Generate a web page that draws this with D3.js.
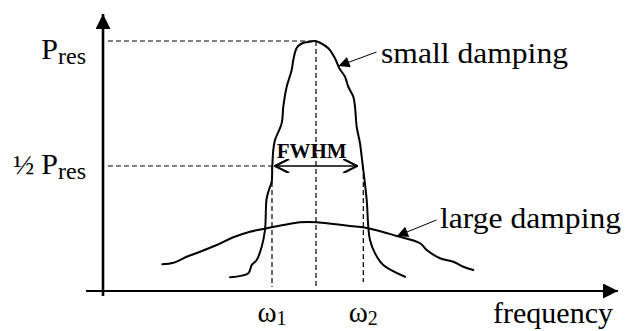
<!DOCTYPE html>
<html>
<head>
<meta charset="utf-8">
<script src="https://cdn.jsdelivr.net/npm/d3@7"></script>
<style>
  html, body { margin: 0; padding: 0; background: #fff; }
  svg { display: block; }
</style>
</head>
<body>
<svg id="chart" width="625" height="331"></svg>
<script>
// Resonance curves: power vs. frequency (arbitrary units; power as fraction of P_res)
const smallFreq  = [25.4, 29.06, 29.74, 30.74, 31.74, 32.4, 32.74, 33.4, 33.74, 33.86, 34.06, 34.4, 35.74, 36.06, 36.74, 37.74, 38.06, 38.74, 39.74, 41.0, 42.4, 43.4, 45.06, 46.4, 47.26, 48.4, 49.06, 50.06, 50.4, 50.74, 51.4, 51.74, 52.06, 52.74, 53.06, 53.4, 54.4, 56.06, 60.4];
const smallPower = [0.055, 0.071, 0.104, 0.124, 0.177, 0.244, 0.371, 0.417, 0.437, 0.50, 0.564, 0.604, 0.671, 0.737, 0.817, 0.884, 0.924, 0.972, 0.99, 0.996, 1.0, 0.993, 0.971, 0.931, 0.891, 0.857, 0.817, 0.777, 0.737, 0.657, 0.591, 0.537, 0.484, 0.364, 0.257, 0.204, 0.151, 0.104, 0.057];

const largeFreq  = [11.86, 14.06, 16.74, 19.4, 22.74, 26.06, 29.4, 32.74, 36.06, 39.4, 42.74, 46.06, 49.4, 53.06, 58.74, 63.4, 64.74, 67.4, 70.06, 72.06, 74.06];
const largePower = [0.107, 0.113, 0.137, 0.157, 0.184, 0.215, 0.237, 0.251, 0.264, 0.275, 0.275, 0.268, 0.26, 0.251, 0.22, 0.191, 0.164, 0.131, 0.117, 0.097, 0.084];

// Characteristic frequencies and power levels
const omegaRes = 42.6;
const omega1 = 33.8;
const omega2 = 52.06;
const pRes = 1.0;
const pHalf = 0.5;

// Axis labels
const yLabels = [
  { value: pRes,  prefix: "",   main: "P", sub: "res" },
  { value: pHalf, prefix: "½ ", main: "P", sub: "res" }
];
const xLabels = [
  { value: omega1, main: "ω", sub: "1" },
  { value: omega2, main: "ω", sub: "2" }
];
const xTitle = "frequency";
const curveNames = ["small damping", "large damping"];
const fwhmLabel = "FWHM";

const FONT = "'Liberation Serif', 'Times New Roman', Times, serif";

const svg = d3.select("#chart");
svg.append("rect").attr("width", 625).attr("height", 331).attr("fill", "#fff");
const x = d3.scaleLinear().domain([0, 100]).range([103, 603]);
const y = d3.scaleLinear().domain([0, 1]).range([291, 41]);

// Arrowhead markers
const defs = svg.append("defs");
defs.append("marker")
  .attr("id", "axisHead").attr("viewBox", "0 0 10 10")
  .attr("refX", 10).attr("refY", 5)
  .attr("markerUnits", "userSpaceOnUse")
  .attr("markerWidth", 15).attr("markerHeight", 15)
  .attr("orient", "auto")
  .append("path").attr("d", "M0,0 L10,5 L0,10 Z").attr("fill", "#000");
defs.append("marker")
  .attr("id", "pointerHead").attr("viewBox", "0 0 10 10")
  .attr("refX", 10).attr("refY", 5)
  .attr("markerUnits", "userSpaceOnUse")
  .attr("markerWidth", 15).attr("markerHeight", 11)
  .attr("orient", "auto")
  .append("path").attr("d", "M0,0 L10,5 L0,10 Z").attr("fill", "#000");
defs.append("marker")
  .attr("id", "openHead").attr("viewBox", "0 0 10 10")
  .attr("refX", 10).attr("refY", 5)
  .attr("markerUnits", "userSpaceOnUse")
  .attr("markerWidth", 16).attr("markerHeight", 14)
  .attr("orient", "auto-start-reverse")
  .append("path").attr("d", "M0,0 L10,5 L0,10").attr("fill", "none")
  .attr("stroke", "#000").attr("stroke-width", 1.5);

// Dashed guide lines
const guides = svg.append("g").attr("stroke", "#000").attr("stroke-width", 1.2)
  .attr("stroke-dasharray", "5,3").attr("fill", "none");
guides.append("line")
  .attr("x1", x(0) + 5).attr("x2", x(omegaRes)).attr("y1", y(pRes)).attr("y2", y(pRes));
guides.append("line")
  .attr("x1", x(0) + 5).attr("x2", x(omega1)).attr("y1", y(pHalf)).attr("y2", y(pHalf));
guides.append("line")
  .attr("x1", x(omegaRes)).attr("x2", x(omegaRes)).attr("y1", y(pRes)).attr("y2", y(0.008));
guides.append("line")
  .attr("x1", x(omega1)).attr("x2", x(omega1)).attr("y1", y(pHalf)).attr("y2", y(0.016));
guides.append("line")
  .attr("x1", x(omega2)).attr("x2", x(omega2)).attr("y1", y(pHalf)).attr("y2", y(0.036));

// Axes
svg.append("line")
  .attr("x1", x(0)).attr("x2", x(0)).attr("y1", y(0) + 5).attr("y2", 14)
  .attr("stroke", "#000").attr("stroke-width", 2.6).attr("marker-end", "url(#axisHead)");
svg.append("line")
  .attr("x1", x(0) - 17).attr("x2", x(100) + 15).attr("y1", y(0)).attr("y2", y(0))
  .attr("stroke", "#000").attr("stroke-width", 2.2).attr("marker-end", "url(#axisHead)");

// Curves
const line = d3.line().x(d => x(d[0])).y(d => y(d[1])).curve(d3.curveCatmullRom.alpha(0.5));
const curves = svg.append("g").attr("fill", "none").attr("stroke", "#000")
  .attr("stroke-width", 2).attr("stroke-linejoin", "round").attr("stroke-linecap", "round");
curves.append("path").attr("d", line(d3.zip(largeFreq, largePower)));
curves.append("path").attr("d", line(d3.zip(smallFreq, smallPower)));

// FWHM double arrow
svg.append("line")
  .attr("x1", x(omega1) + 3).attr("x2", x(omega2) - 6)
  .attr("y1", y(pHalf)).attr("y2", y(pHalf))
  .attr("stroke", "#000").attr("stroke-width", 1.5)
  .attr("marker-start", "url(#openHead)").attr("marker-end", "url(#openHead)");
svg.append("text")
  .attr("x", (x(omega1) + x(omega2)) / 2 - 6).attr("y", y(pHalf) - 8)
  .attr("text-anchor", "middle").attr("font-size", 21).attr("font-weight", "bold")
  .attr("font-family", FONT)
  .text(fwhmLabel);

// Curve annotations with pointers
const notes = [
  { name: curveNames[0], from: [376.5, 52], to: [47.1, 0.9], tx: 381, ty: 63, len: 187 },
  { name: curveNames[1], from: [436.5, 220], to: [58.8, 0.22], tx: 440, ty: 228, len: 181 }
];
notes.forEach(n => {
  svg.append("line")
    .attr("x1", n.from[0]).attr("y1", n.from[1])
    .attr("x2", x(n.to[0])).attr("y2", y(n.to[1]))
    .attr("stroke", "#000").attr("stroke-width", 1)
    .attr("marker-end", "url(#pointerHead)");
  svg.append("text")
    .attr("x", n.tx).attr("y", n.ty).attr("font-size", 29)
    .attr("font-family", FONT)
    .attr("textLength", n.len).attr("lengthAdjust", "spacingAndGlyphs")
    .text(n.name);
});

// Y labels
yLabels.forEach((d, i) => {
  const t = svg.append("text")
    .attr("x", x(0) - 17)
    .attr("y", y(d.value) + (i === 0 ? 18 : 8))
    .attr("text-anchor", "end").attr("font-size", 30)
    .attr("font-family", FONT);
  if (d.prefix) t.append("tspan").attr("font-size", 28).text(d.prefix);
  t.append("tspan").text(d.main);
  t.append("tspan").attr("font-size", 24).attr("dy", 5).text(d.sub);
});

// X labels
xLabels.forEach(d => {
  const t = svg.append("text")
    .attr("x", x(d.value)).attr("y", 322)
    .attr("text-anchor", "middle").attr("font-size", 29)
    .attr("font-family", FONT);
  t.append("tspan").text(d.main);
  t.append("tspan").attr("font-size", 20).attr("dy", 3).text(d.sub);
});
svg.append("text")
  .attr("x", 613).attr("y", 323).attr("text-anchor", "end").attr("font-size", 30)
  .attr("font-family", FONT)
  .text(xTitle);
</script>
</body>
</html>
